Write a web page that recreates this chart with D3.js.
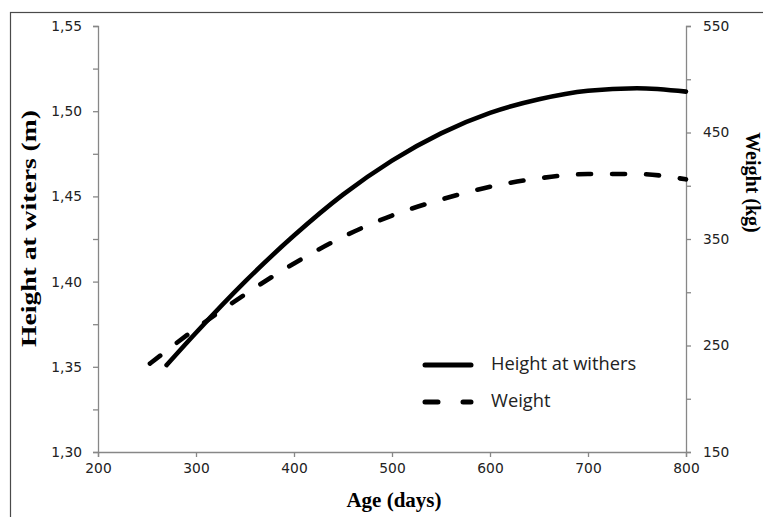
<!DOCTYPE html>
<html><head><meta charset="utf-8">
<script src="https://cdn.jsdelivr.net/npm/d3@7"></script>
<style>body{margin:0;background:#fff}svg{display:block}</style>
</head><body><svg id="c" width="763" height="517"></svg>
<script>
// Data
const heightDays = [270, 300, 350, 400, 450, 500, 550, 600, 650, 700, 750, 800];
const heightValues = [1.351, 1.370, 1.400, 1.427, 1.451, 1.471, 1.487, 1.499, 1.507, 1.512, 1.5135, 1.5115];
const weightDays = [253, 300, 350, 400, 450, 500, 550, 600, 650, 700, 750, 800];
const weightValues = [233, 266, 298, 327, 352, 372, 387, 399, 407, 411, 411, 406];
const xTicks = [200, 300, 400, 500, 600, 700, 800];
const leftTicks = [1.30, 1.35, 1.40, 1.45, 1.50, 1.55];
const leftMinor = [1.325, 1.375, 1.425, 1.475, 1.525];
const rightTicks = [150, 250, 350, 450, 550];
const rightMinor = [200, 300, 400, 500];
const legendLabels = ["Height at withers", "Weight"];

const svg = d3.select("#c");
svg.append("rect").attr("width", 763).attr("height", 517).attr("fill", "#fff");
svg.append("rect").attr("x", 10.5).attr("y", 12.5).attr("width", 900).attr("height", 700)
  .attr("fill", "none").attr("stroke", "#4a4a4a").attr("stroke-width", 1.2);

const x = d3.scaleLinear().domain([200, 800]).range([98, 686]);
const yL = d3.scaleLinear().domain([1.30, 1.55]).range([452, 26]);
const yR = d3.scaleLinear().domain([150, 550]).range([452, 26]);
const loc = d3.formatLocale({decimal: ",", thousands: ".", grouping: [3], currency: ["", ""]});
const fmt2 = loc.format(".2f");

const axisColor = "#878787";
function style(g) {
  g.selectAll("path,line").attr("stroke", axisColor).attr("stroke-width", 1.3);
  g.selectAll("text").attr("fill", "#222").attr("font-family", "DejaVu Sans, Verdana, sans-serif").attr("font-size", 13.8);
}
// minor ticks
svg.append("g").attr("transform", "translate(98,0)")
  .call(d3.axisLeft(yL).tickValues(leftMinor).tickSize(5).tickFormat(""))
  .call(style).call(g => g.select(".domain").remove());
svg.append("g").attr("transform", "translate(686,0)")
  .call(d3.axisRight(yR).tickValues(rightMinor).tickSize(5).tickFormat(""))
  .call(style).call(g => g.select(".domain").remove());
// major axes
svg.append("g").attr("transform", "translate(98,0)")
  .call(d3.axisLeft(yL).tickValues(leftTicks).tickSize(5).tickSizeOuter(5).tickPadding(11).tickFormat(fmt2))
  .call(style);
svg.append("g").attr("transform", "translate(686,0)")
  .call(d3.axisRight(yR).tickValues(rightTicks).tickSize(5).tickSizeOuter(5).tickPadding(12))
  .call(style);
svg.append("g").attr("transform", "translate(0,452)")
  .call(d3.axisBottom(x).tickValues(xTicks).tickSize(5).tickSizeOuter(5).tickPadding(6))
  .call(style);

const hLine = d3.line().x(d => x(d[0])).y(d => yL(d[1])).curve(d3.curveMonotoneX);
const wLine = d3.line().x(d => x(d[0])).y(d => yR(d[1])).curve(d3.curveMonotoneX);
svg.append("path").datum(d3.zip(heightDays, heightValues)).attr("d", hLine)
  .attr("fill", "none").attr("stroke", "#000").attr("stroke-width", 4.6).attr("stroke-linecap", "round");
svg.append("path").datum(d3.zip(weightDays, weightValues)).attr("d", wLine)
  .attr("fill", "none").attr("stroke", "#000").attr("stroke-width", 4.6).attr("stroke-linecap", "round")
  .attr("stroke-dasharray", "13,21");

// legend
const lg = svg.append("g");
lg.append("line").attr("x1", 425).attr("x2", 471).attr("y1", 365).attr("y2", 365)
  .attr("stroke", "#000").attr("stroke-width", 5).attr("stroke-linecap", "round");
lg.append("line").attr("x1", 425).attr("x2", 471).attr("y1", 402).attr("y2", 402)
  .attr("stroke", "#000").attr("stroke-width", 5).attr("stroke-linecap", "round").attr("stroke-dasharray", "13,25");
lg.selectAll("text.lt").data(legendLabels).join("text").attr("class", "lt")
  .attr("x", 491).attr("y", (d, i) => 370 + i * 37).text(d => d)
  .attr("font-family", "Open Sans, sans-serif").attr("font-size", 18.3).attr("fill", "#222");

// axis titles
const serif = "Liberation Serif, Times New Roman, serif";
svg.append("text").attr("transform", "translate(29,228.5) rotate(-90)")
  .attr("text-anchor", "middle").attr("dominant-baseline", "central")
  .attr("font-family", serif).attr("font-weight", "bold").attr("font-size", 20)
  .attr("textLength", 237).attr("lengthAdjust", "spacingAndGlyphs")
  .text("Height at witers (m)");
svg.append("text").attr("transform", "translate(753,182.5) rotate(90)")
  .attr("text-anchor", "middle").attr("dominant-baseline", "central")
  .attr("font-family", serif).attr("font-weight", "bold").attr("font-size", 20)
  .text("Weight (kg)");
svg.append("text").attr("x", 394).attr("y", 500)
  .attr("text-anchor", "middle").attr("dominant-baseline", "central")
  .attr("font-family", serif).attr("font-weight", "bold").attr("font-size", 21)
  .text("Age (days)");
</script></body></html>
